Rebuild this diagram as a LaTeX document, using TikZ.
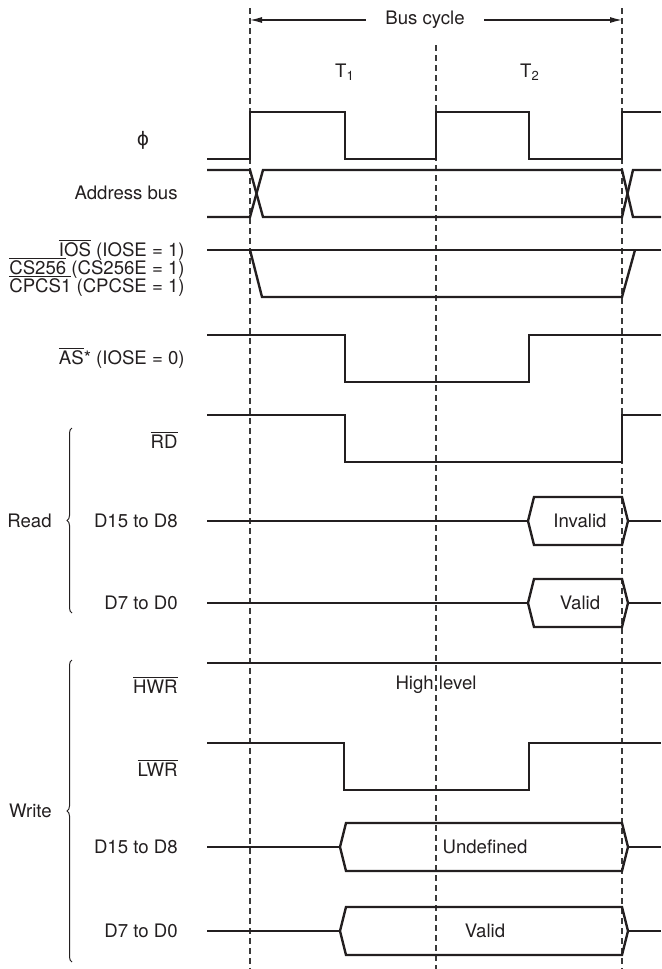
\documentclass[tikz,border=0pt]{standalone}
\usepackage{fontspec}
\setmainfont{TeX Gyre Heros}
\newfontfamily\greekfont{DejaVu Sans}
\usetikzlibrary{positioning, arrows.meta, decorations.pathreplacing}
\usepackage{xcolor}
\definecolor{tdink}{HTML}{231F20}
\definecolor{tdgrid}{HTML}{3A3A3A}

\begin{document}
\begin{tikzpicture}[x=0.5pt, y=-0.5pt, font=\fontsize{9.3}{11}\selectfont,
    wave/.style={draw=tdink, line width=1.2pt},
    guide/.style={draw=tdgrid, line width=0.6pt, dash pattern=on 3pt off 2pt},
    lbl/.style={anchor=east, inner sep=0pt, text=tdink},
    grp/.style={draw=tdink, line width=0.5pt, decorate, decoration={brace, amplitude=2.5pt}}]
  \useasboundingbox (0,0) rectangle (661,969);

  % cycle boundaries
  \draw[guide] (250,8) -- (250,969);
  \draw[guide] (436,45) -- (436,969);
  \draw[guide] (622,8) -- (622,969);

  \coordinate (cycL) at (250,20);
  \coordinate (cycR) at (622,20);
  \node[text=tdink, inner xsep=9.5pt, inner ysep=0pt] (bus) at (425,20) {Bus cycle};
  \draw[tdink, line width=0.6pt, -{Latex[length=6pt, width=3pt]}] (bus.west) -- (cycL);
  \draw[tdink, line width=0.6pt, -{Latex[length=6pt, width=3pt]}] (bus.east) -- (cycR);

  \node[text=tdink] (t1) at (345,72) {T\textsubscript{1}};
  \node[text=tdink] (t2) at (530,72) {T\textsubscript{2}};

  % clock
  \node[lbl, anchor=center] (phi) at (143,140) {\greekfont ϕ};
  \draw[wave] (207,159) -- (250,159) -- (250,112) -- (345,112) -- (345,159) -- (436,159)
    -- (436,112) -- (529,112) -- (529,159) -- (622,159) -- (622,112) -- (661,112);

  % address bus
  \node[lbl] (addr) at (178,193) {Address bus};
  \draw[wave] (207,170) -- (250,170) -- (263,217) -- (622,217) -- (633,170) -- (661,170);
  \draw[wave] (207,217) -- (250,217) -- (263,170) -- (622,170) -- (633,217) -- (661,217);

  % chip selects
  \node[lbl] (ios) at (185,250) {$\overline{\mbox{IOS}}$ (IOSE = 1)};
  \node[lbl] (cs) at (185,268) {$\overline{\mbox{CS256}}$ (CS256E = 1)};
  \node[lbl] (cpcs) at (185,286) {$\overline{\mbox{CPCS1}}$ (CPCSE = 1)};
  \draw[wave] (207,250) -- (661,250);
  \draw[wave] (250,250) -- (262,297) -- (622,297) -- (635,250);

  % address strobe
  \node[lbl] (as) at (185,358) {$\overline{\mbox{AS}}$* (IOSE = 0)};
  \draw[wave] (207,335) -- (345,335) -- (345,382) -- (529,382) -- (529,335) -- (661,335);

  % read cycle
  \node[lbl] (rd) at (178,440) {$\overline{\mbox{RD}}$};
  \draw[wave] (207,415) -- (345,415) -- (345,462) -- (622,462) -- (622,415) -- (661,415);

  \node[lbl] (rdhi) at (178,521) {D15 to D8};
  \draw[wave] (207,521) -- (528,521);
  \draw[wave] (528,521) -- (534,497) -- (622,497) -- (628,521) -- (622,545) -- (534,545) -- cycle;
  \draw[wave] (628,521) -- (661,521);
  \node[text=tdink] (inval) at (580,521) {Invalid};

  \node[lbl] (rdlo) at (178,603) {D7 to D0};
  \draw[wave] (207,603) -- (528,603);
  \draw[wave] (528,603) -- (534,579) -- (622,579) -- (628,603) -- (622,627) -- (534,627) -- cycle;
  \draw[wave] (628,603) -- (661,603);
  \node[text=tdink] (rdval) at (580,603) {Valid};

  \node[lbl] (read) at (52,521) {Read};
  \draw[grp] (72,613) -- (72,428);

  % write cycle
  \node[lbl] (hwr) at (178,685) {$\overline{\mbox{HWR}}$};
  \draw[wave] (207,663) -- (661,663);
  \node[text=tdink] (high) at (436,685) {High level};

  \node[lbl] (lwr) at (178,768) {$\overline{\mbox{LWR}}$};
  \draw[wave] (207,743) -- (344,743) -- (344,790) -- (529,790) -- (529,743) -- (661,743);

  \node[lbl] (wrhi) at (178,847) {D15 to D8};
  \draw[wave] (207,847) -- (340,847);
  \draw[wave] (340,847) -- (346,823) -- (622,823) -- (628,847) -- (622,871) -- (346,871) -- cycle;
  \draw[wave] (628,847) -- (661,847);
  \node[text=tdink] (undef) at (485,847) {Undefined};

  \node[lbl] (wrlo) at (178,931) {D7 to D0};
  \draw[wave] (207,931) -- (340,931);
  \draw[wave] (340,931) -- (346,907) -- (622,907) -- (628,931) -- (622,955) -- (346,955) -- cycle;
  \draw[wave] (628,931) -- (661,931);
  \node[text=tdink] (wrval) at (485,931) {Valid};

  \node[lbl] (write) at (52,811) {Write};
  \draw[grp] (72,962) -- (72,660);
\end{tikzpicture}
\end{document}
